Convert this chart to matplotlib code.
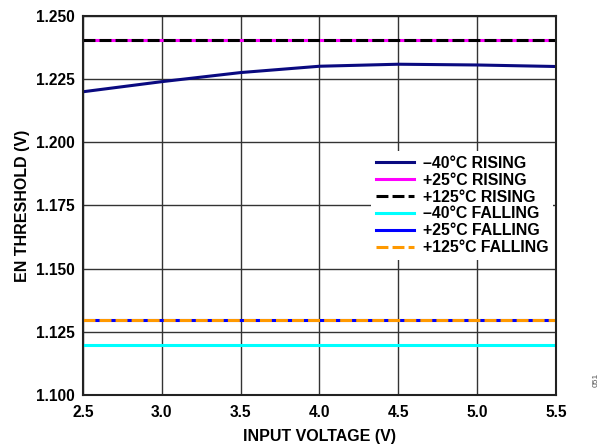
import matplotlib.pyplot as plt

plt.rcParams['font.family'] = ['Liberation Sans', 'DejaVu Sans']
plt.rcParams['font.weight'] = 'bold'

vin = [2.5, 3.0, 3.5, 4.0, 4.5, 5.0, 5.5]
rise_m40 = [1.2200, 1.2240, 1.2276, 1.2301, 1.2309, 1.2306, 1.2300]
rise_25 = [1.2405] * 7
rise_125 = [1.2405] * 7
fall_m40 = [1.1198] * 7
fall_25 = [1.1297] * 7
fall_125 = [1.1297] * 7

fig = plt.figure(figsize=(6.05, 4.47), dpi=100)
ax = fig.add_axes([0.137, 0.1163, 0.782, 0.848])

dash = (0, (3.9, 1.35))
ax.plot(vin, rise_m40, color='#0a0a80', lw=2.2, label='\u201340°C RISING')
ax.plot(vin, rise_25, color='#ff00ff', lw=2.2, label='+25°C RISING')
ax.plot(vin, rise_125, color='black', lw=2.2, ls=dash, label='+125°C RISING')
ax.plot(vin, fall_m40, color='#00ffff', lw=2.2, label='\u201340°C FALLING')
ax.plot(vin, fall_25, color='#0000ff', lw=2.2, label='+25°C FALLING')
ax.plot(vin, fall_125, color='#ff9900', lw=2.2, ls=dash, label='+125°C FALLING')

ax.set_xlim(2.5, 5.5)
ax.set_ylim(1.100, 1.250)
ax.set_xticks(vin)
ax.set_xticklabels(['%.1f' % v for v in vin])
yt = [1.100, 1.125, 1.150, 1.175, 1.200, 1.225, 1.250]
ax.set_yticks(yt)
ax.set_yticklabels(['%.3f' % v for v in yt])
ax.tick_params(length=0, labelsize=11.2, pad=6)
ax.tick_params(axis='x', pad=7)
ax.grid(color='#333333', lw=1)
for s in ax.spines.values():
    s.set_linewidth(1.5)
    s.set_color('#222222')

ax.set_xlabel('INPUT VOLTAGE (V)', fontsize=11.5, fontweight='bold', labelpad=7)
ax.set_ylabel('EN THRESHOLD (V)', fontsize=11.5, fontweight='bold', labelpad=4)

leg = ax.legend(loc='upper right', bbox_to_anchor=(553 / 605, 1 - 151 / 447),
                bbox_transform=fig.transFigure, frameon=True,
                fancybox=False, edgecolor='white', framealpha=1,
                fontsize=11.4, handlelength=2.4, handletextpad=0.55,
                labelspacing=0.12, borderpad=0.3, borderaxespad=0)
leg.get_frame().set_linewidth(0)

fig.text(0.985, 0.15, '051', rotation=90, fontsize=6, color='#555555',
         fontweight='normal', ha='center', va='center')

fig.savefig('out.png', dpi=100)
